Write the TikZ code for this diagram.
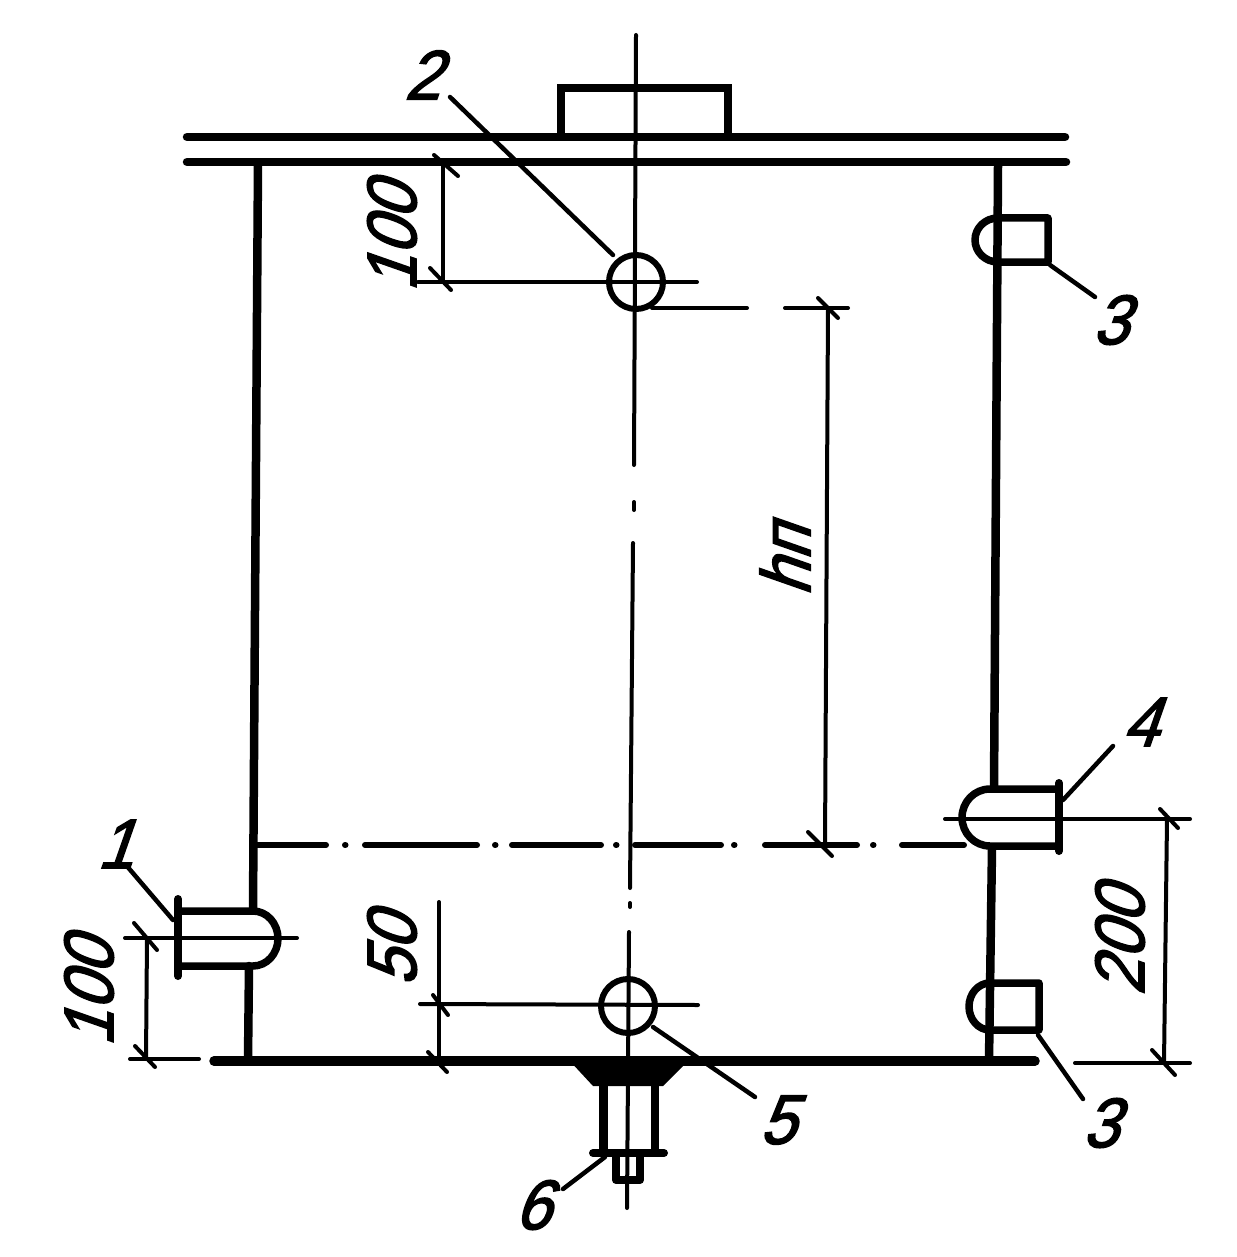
\documentclass[tikz,border=0pt]{standalone}
\usepackage{fontspec}
\newfontfamily\handfont[FakeSlant=0.35,FakeBold=2.2,FakeStretch=0.92]{Liberation Sans}
\tikzset{
  thickline/.style={line width=8.5pt, line cap=round},
  thinline/.style={line width=4pt, line cap=round},
  leaderline/.style={line width=4.5pt, line cap=round},
  axisline/.style={line width=6pt, line cap=round},
  pencil/.style={line width=7.5pt, line join=round},
  numlabel/.style={inner sep=0pt, font=\handfont\fontsize{70}{70}\selectfont},
  dimlabel/.style={numlabel, rotate=90}
}
\begin{document}
\begin{tikzpicture}[x=1pt, y=-1pt]
    \useasboundingbox (0,0) rectangle (1236,1257);
    % plates and walls
    \draw[thickline] (187,137) -- (1065,137);
    \draw[thickline] (187,162) -- (1066,162);
    \draw[line width=9.5pt, line cap=round] (214,1061) -- (1035,1061);
    \draw[thickline] (561,135) -- (561,88) -- (728,88) -- (728,135);
    \draw[thickline] (258,163) -- (253,908);
    \draw[thickline] (249,966) -- (248,1060);
    \draw[thickline] (998,165) -- (994,788);
    \draw[thickline] (992,848) -- (989,1060);
    % centre lines
    \draw[thinline] (636,35) -- (634,465);
    \draw[thinline] (634,502) -- (634,510);
    \draw[thinline] (633,543) -- (630,888);
    \draw[thinline] (630,903) -- (630,907);
    \draw[thinline] (629,932) -- (627,1208);
    \foreach \xa/\xb in {255/326, 365/477, 512/601, 635/721, 765/857, 902/964}
        \draw[axisline] (\xa,845) -- (\xb,845);
    \foreach \xa in {345, 495, 616, 734, 873}
        \draw[axisline] (\xa,845) -- (\xa+0.5,845);
    % circles
    \draw[line width=6pt] (636,282) circle (27);
    \draw[line width=6pt] (628,1006) circle (27);
    % nozzle on the left wall
    \draw[pencil] (180,911) -- (253,911) arc (-90:90:25 and 27.5) -- (180,966);
    \draw[line width=8pt, line cap=round] (178,899) -- (178,976);
    % nozzles on the right wall
    \draw[pencil] (1059,789) -- (990,789) arc (270:90:28 and 28.5) -- (1059,846);
    \draw[line width=8pt, line cap=round] (1059,783) -- (1059,851);
    \draw[pencil] (998,218) -- (1048,218) -- (1048,262) -- (998,262) arc (90:270:23 and 22);
    \draw[pencil] (990,983) -- (1039,983) -- (1039,1030) -- (990,1030) arc (90:270:21 and 23.5);
    % drain at the bottom
    \fill (568,1059) -- (690,1059) -- (663,1086) -- (593,1086) -- cycle;
    \draw[line width=9pt] (603,1084) -- (603,1152);
    \draw[line width=8pt] (655,1084) -- (655,1152);
    \draw[line width=8pt, line cap=round] (593,1153) -- (664,1153);
    \draw[line width=8pt, line join=round] (616,1153) -- (616,1180) -- (640,1180) -- (640,1153);
    % dimensions
    \draw[thinline] (418,282) -- (697,282);
    \draw[thinline] (443,163) -- (443,282);
    \draw[thinline] (434,155) -- (458,176);
    \draw[thinline] (430,268) -- (451,290);
    \draw[thinline] (652,308) -- (747,308);
    \draw[thinline] (785,308) -- (848,308);
    \draw[thinline] (828,308) -- (825,845);
    \draw[thinline] (818,298) -- (838,318);
    \draw[thinline] (808,832) -- (832,856);
    \draw[thinline] (125,938) -- (297,938);
    \draw[thinline] (147,938) -- (146,1059);
    \draw[thinline] (134,923) -- (157,950);
    \draw[thinline] (130,1059) -- (199,1059);
    \draw[thinline] (135,1046) -- (155,1067);
    \draw[thinline] (439,902) -- (439,1060);
    \draw[thinline] (420,1004) -- (698,1005);
    \draw[thinline] (433,995) -- (448,1015);
    \draw[thinline] (428,1052) -- (447,1072);
    \draw[thinline] (945,819) -- (1190,819);
    \draw[thinline] (1167,819) -- (1164,1063);
    \draw[thinline] (1160,809) -- (1178,828);
    \draw[thinline] (1075,1063) -- (1190,1063);
    \draw[thinline] (1152,1050) -- (1175,1075);
    % leaders
    \draw[leaderline] (450,97) -- (613,255);
    \draw[leaderline] (126,865) -- (173,920);
    \draw[leaderline] (653,1027) -- (755,1097);
    \draw[leaderline] (563,1189) -- (605,1157);
    \draw[leaderline] (1113,746) -- (1063,800);
    \draw[leaderline] (1038,1035) -- (1083,1099);
    \draw[leaderline] (1050,265) -- (1095,297);
    % labels
    \node[numlabel] (pos2) at (422,75) {2};
    \node[numlabel] (pos1) at (115,844) {1};
    \node[numlabel] (pos5) at (777,1120) {5};
    \node[numlabel] (pos6) at (532,1205) {6};
    \node[numlabel] (pos4a) at (1140,722) {4};
    \node[numlabel] (pos3a) at (1110,320) {3};
    \node[numlabel] (pos3b) at (1100,1123) {3};
    \node[dimlabel] (dimtop) at (392,238) {100};
    \node[dimlabel] (dimleft) at (89,993) {100};
    \node[dimlabel] (dimdrain) at (392,951) {50};
    \node[dimlabel] (dimright) at (1120,942) {200};
    \node[dimlabel] (dimh) at (785,561) {hп};
\end{tikzpicture}
\end{document}
